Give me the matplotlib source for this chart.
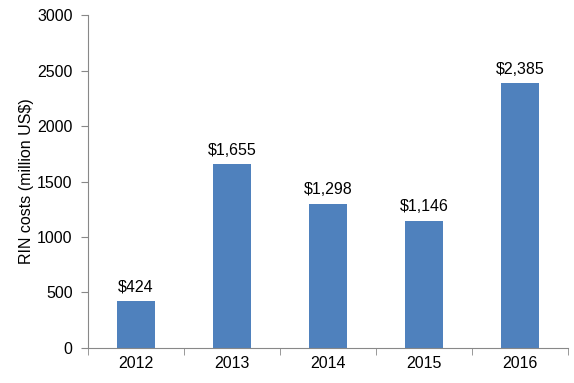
import matplotlib.pyplot as plt
from matplotlib.ticker import FixedLocator
plt.switch_backend('Agg')

years = ['2012', '2013', '2014', '2015', '2016']
costs = [424, 1655, 1298, 1146, 2385]
labels = ['$424', '$1,655', '$1,298', '$1,146', '$2,385']

plt.rcParams['font.family'] = ['Liberation Sans', 'DejaVu Sans']
plt.rcParams['font.size'] = 11.5

fig = plt.figure(figsize=(5.74, 3.83), dpi=100)
ax = fig.add_axes([0.1533, 0.0914, 0.8362, 0.8694])

x = range(len(years))
bars = ax.bar(x, costs, width=0.4, color='#4F81BD')
for xi, v, lab in zip(x, costs, labels):
    ax.text(xi, v + 60, lab, ha='center', va='bottom', fontsize=11.5)

ax.set_xlim(-0.5, len(years) - 0.5)
ax.set_ylim(0, 3000)
ax.set_yticks(range(0, 3001, 500))
ax.set_xticks(list(x))
ax.set_xticklabels(years)
ax.tick_params(axis='x', length=0, pad=6)
ax.xaxis.set_minor_locator(FixedLocator([i - 0.5 for i in range(len(years) + 1)]))
ax.tick_params(axis='x', which='minor', length=5, color='#888888', direction='out')
ax.tick_params(axis='y', length=5, color='#888888', pad=6)
ax.set_ylabel('RIN costs (million US$)', fontsize=11.5, labelpad=2)

for s in ['top', 'right']:
    ax.spines[s].set_visible(False)
for s in ['left', 'bottom']:
    ax.spines[s].set_color('#888888')

fig.savefig('out.png', dpi=100)
